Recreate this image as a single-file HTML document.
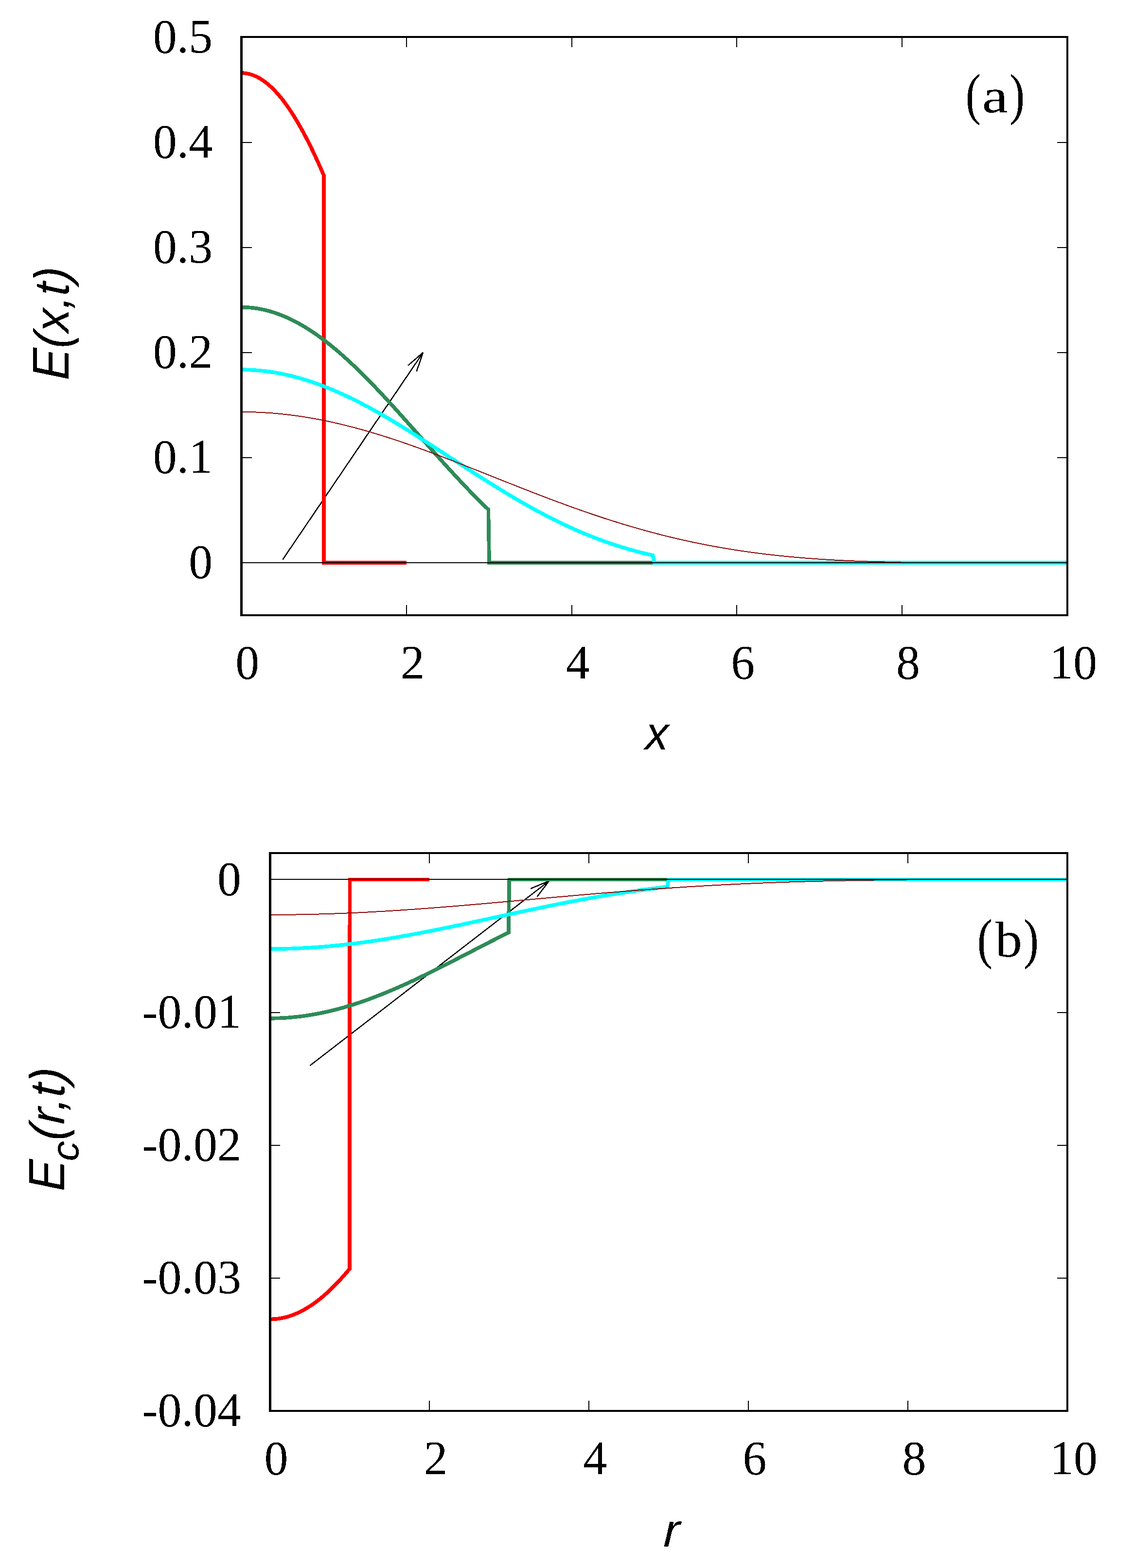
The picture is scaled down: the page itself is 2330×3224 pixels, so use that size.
<!DOCTYPE html>
<html lang="en">
<head>
<meta charset="utf-8">
<title>E(x,t) and Ec(r,t)</title>
<style>
html,body{margin:0;padding:0;background:#fff;}
body{width:2330px;height:3224px;overflow:hidden;}
svg{display:block;}
</style>
</head>
<body>
<svg width="2330" height="3224" viewBox="0 0 2330 3224" shape-rendering="crispEdges">
<defs><filter id="bw" x="-20%" y="-20%" width="140%" height="140%" color-interpolation-filters="sRGB"><feComponentTransfer><feFuncA type="discrete" tableValues="0 1"/></feComponentTransfer></filter></defs>
<rect x="0" y="0" width="2330" height="3224" fill="#fff"/>
<g id="plot-a">
<path d="M581.42,1150.51 L870.17,724.66 M838.93,751.68 L870.17,724.66 M856.63,763.68 L870.17,724.66" fill="none" stroke="#000" stroke-width="2.5" stroke-linecap="butt"/>
<g id="curves-a">
<polyline points="496.50,150.17 497.18,150.17 497.86,150.18 498.54,150.20 499.22,150.22 499.90,150.26 500.58,150.30 501.26,150.34 501.94,150.40 502.61,150.46 503.29,150.53 503.97,150.60 504.65,150.69 505.33,150.78 506.01,150.87 506.69,150.98 507.37,151.09 508.05,151.21 508.73,151.33 509.41,151.46 510.09,151.61 510.77,151.75 511.45,151.91 512.13,152.07 512.81,152.24 513.49,152.41 514.16,152.60 514.84,152.79 515.52,152.98 516.20,153.19 516.88,153.40 517.56,153.62 518.24,153.85 518.92,154.08 519.60,154.32 520.28,154.57 520.96,154.82 521.64,155.08 522.32,155.35 523.00,155.63 523.68,155.91 524.36,156.20 525.03,156.50 525.71,156.80 526.39,157.12 527.07,157.43 527.75,157.76 528.43,158.09 529.11,158.43 529.79,158.78 530.47,159.13 531.15,159.50 531.83,159.86 532.51,160.24 533.19,160.62 533.87,161.01 534.55,161.41 535.23,161.81 535.91,162.22 536.58,162.64 537.26,163.07 537.94,163.50 538.62,163.94 539.30,164.38 539.98,164.84 540.66,165.30 541.34,165.76 542.02,166.24 542.70,166.72 543.38,167.21 544.06,167.70 544.74,168.20 545.42,168.71 546.10,169.23 546.78,169.75 547.46,170.28 548.13,170.82 548.81,171.36 549.49,171.92 550.17,172.47 550.85,173.04 551.53,173.61 552.21,174.19 552.89,174.77 553.57,175.37 554.25,175.97 554.93,176.57 555.61,177.18 556.29,177.80 556.97,178.43 557.65,179.07 558.33,179.71 559.00,180.35 559.68,181.01 560.36,181.67 561.04,182.34 561.72,183.01 562.40,183.69 563.08,184.38 563.76,185.08 564.44,185.78 565.12,186.49 565.80,187.20 566.48,187.93 567.16,188.65 567.84,189.39 568.52,190.13 569.20,190.88 569.88,191.64 570.55,192.40 571.23,193.17 571.91,193.95 572.59,194.73 573.27,195.52 573.95,196.31 574.63,197.12 575.31,197.93 575.99,198.74 576.67,199.57 577.35,200.40 578.03,201.23 578.71,202.07 579.39,202.92 580.07,203.78 580.75,204.64 581.42,205.51 582.10,206.39 582.78,207.27 583.46,208.16 584.14,209.05 584.82,209.95 585.50,210.86 586.18,211.77 586.86,212.70 587.54,213.62 588.22,214.56 588.90,215.50 589.58,216.44 590.26,217.40 590.94,218.36 591.62,219.32 592.30,220.30 592.97,221.28 593.65,222.26 594.33,223.25 595.01,224.25 595.69,225.25 596.37,226.27 597.05,227.28 597.73,228.31 598.41,229.33 599.09,230.37 599.77,231.41 600.45,232.46 601.13,233.52 601.81,234.58 602.49,235.64 603.17,236.72 603.85,237.80 604.52,238.88 605.20,239.97 605.88,241.07 606.56,242.18 607.24,243.29 607.92,244.40 608.60,245.53 609.28,246.65 609.96,247.79 610.64,248.93 611.32,250.08 612.00,251.23 612.68,252.39 613.36,253.55 614.04,254.72 614.72,255.90 615.39,257.08 616.07,258.27 616.75,259.47 617.43,260.67 618.11,261.87 618.79,263.09 619.47,264.31 620.15,265.53 620.83,266.76 621.51,268.00 622.19,269.24 622.87,270.49 623.55,271.74 624.23,273.00 624.91,274.26 625.59,275.53 626.27,276.81 626.94,278.09 627.62,279.38 628.30,280.67 628.98,281.97 629.66,283.28 630.34,284.59 631.02,285.91 631.70,287.23 632.38,288.56 633.06,289.89 633.74,291.23 634.42,292.57 635.10,293.92 635.78,295.28 636.46,296.64 637.14,298.01 637.82,299.38 638.49,300.76 639.17,302.14 639.85,303.53 640.53,304.92 641.21,306.32 641.89,307.73 642.57,309.14 643.25,310.55 643.93,311.97 644.61,313.40 645.29,314.83 645.97,316.27 646.65,317.71 647.33,319.16 648.01,320.61 648.69,322.07 649.37,323.53 650.04,325.00 650.72,326.47 651.40,327.95 652.08,329.43 652.76,330.92 653.44,332.42 654.12,333.92 654.80,335.42 655.48,336.93 656.16,338.44 656.84,339.96 657.52,341.49 658.20,343.02 658.88,344.55 659.56,346.09 660.24,347.64 660.91,349.19 661.59,350.74 662.27,352.30 662.95,353.86 663.63,355.43 664.31,357.01 664.99,358.58 665.67,360.17 666.35,1157.00 836.20,1157.00" fill="none" stroke="#ff0000" stroke-width="7.7" stroke-linejoin="miter" stroke-miterlimit="10" stroke-linecap="butt"/>
<polyline points="496.50,631.71 498.20,631.71 499.90,631.73 501.60,631.77 503.29,631.82 504.99,631.88 506.69,631.96 508.39,632.05 510.09,632.16 511.79,632.28 513.49,632.41 515.18,632.56 516.88,632.73 518.58,632.90 520.28,633.09 521.98,633.30 523.68,633.52 525.37,633.75 527.07,634.00 528.77,634.26 530.47,634.54 532.17,634.83 533.87,635.13 535.57,635.45 537.26,635.78 538.96,636.13 540.66,636.48 542.36,636.86 544.06,637.25 545.76,637.65 547.46,638.06 549.15,638.49 550.85,638.93 552.55,639.39 554.25,639.86 555.95,640.34 557.65,640.84 559.34,641.35 561.04,641.88 562.74,642.41 564.44,642.97 566.14,643.53 567.84,644.11 569.54,644.70 571.23,645.31 572.93,645.93 574.63,646.56 576.33,647.21 578.03,647.87 579.73,648.54 581.42,649.23 583.12,649.93 584.82,650.64 586.52,651.36 588.22,652.10 589.92,652.85 591.62,653.62 593.31,654.39 595.01,655.18 596.71,655.99 598.41,656.80 600.11,657.63 601.81,658.47 603.51,659.33 605.20,660.19 606.90,661.07 608.60,661.97 610.30,662.87 612.00,663.79 613.70,664.72 615.39,665.66 617.09,666.61 618.79,667.58 620.49,668.55 622.19,669.54 623.89,670.55 625.59,671.56 627.28,672.59 628.98,673.63 630.68,674.68 632.38,675.74 634.08,676.81 635.78,677.89 637.48,678.99 639.17,680.10 640.87,681.22 642.57,682.35 644.27,683.49 645.97,684.65 647.67,685.81 649.37,686.99 651.06,688.17 652.76,689.37 654.46,690.58 656.16,691.80 657.86,693.03 659.56,694.27 661.25,695.52 662.95,696.79 664.65,698.06 666.35,699.34 668.05,700.64 669.75,701.94 671.45,703.25 673.14,704.58 674.84,705.91 676.54,707.26 678.24,708.61 679.94,709.98 681.64,711.35 683.34,712.74 685.03,714.13 686.73,715.53 688.43,716.95 690.13,718.37 691.83,719.80 693.53,721.24 695.22,722.69 696.92,724.15 698.62,725.62 700.32,727.10 702.02,728.58 703.72,730.08 705.42,731.58 707.11,733.09 708.81,734.61 710.51,736.14 712.21,737.68 713.91,739.22 715.61,740.78 717.31,742.34 719.00,743.91 720.70,745.49 722.40,747.07 724.10,748.67 725.80,750.27 727.50,751.88 729.19,753.49 730.89,755.12 732.59,756.75 734.29,758.39 735.99,760.03 737.69,761.69 739.39,763.35 741.08,765.01 742.78,766.68 744.48,768.36 746.18,770.05 747.88,771.74 749.58,773.44 751.27,775.15 752.97,776.86 754.67,778.58 756.37,780.31 758.07,782.04 759.77,783.77 761.47,785.51 763.16,787.26 764.86,789.02 766.56,790.78 768.26,792.54 769.96,794.31 771.66,796.08 773.36,797.86 775.05,799.65 776.75,801.44 778.45,803.24 780.15,805.04 781.85,806.84 783.55,808.65 785.25,810.46 786.94,812.28 788.64,814.10 790.34,815.93 792.04,817.76 793.74,819.59 795.44,821.43 797.13,823.28 798.83,825.12 800.53,826.97 802.23,828.82 803.93,830.68 805.63,832.54 807.33,834.40 809.02,836.27 810.72,838.14 812.42,840.01 814.12,841.89 815.82,843.77 817.52,845.65 819.22,847.53 820.91,849.42 822.61,851.30 824.31,853.20 826.01,855.09 827.71,856.98 829.41,858.88 831.10,860.78 832.80,862.68 834.50,864.58 836.20,866.48 837.90,868.39 839.60,870.30 841.30,872.20 842.99,874.11 844.69,876.02 846.39,877.94 848.09,879.85 849.79,881.76 851.49,883.68 853.18,885.59 854.88,887.51 856.58,889.42 858.28,891.34 859.98,893.25 861.68,895.17 863.38,897.09 865.07,899.00 866.77,900.92 868.47,902.84 870.17,904.75 871.87,906.67 873.57,908.58 875.27,910.50 876.96,912.41 878.66,914.33 880.36,916.24 882.06,918.15 883.76,920.06 885.46,921.97 887.15,923.88 888.85,925.79 890.55,927.69 892.25,929.59 893.95,931.50 895.65,933.40 897.35,935.30 899.04,937.19 900.74,939.09 902.44,940.98 904.14,942.87 905.84,944.76 907.54,946.65 909.24,948.53 910.93,950.42 912.63,952.30 914.33,954.17 916.03,956.05 917.73,957.92 919.43,959.79 921.12,961.65 922.82,963.51 924.52,965.37 926.22,967.23 927.92,969.08 929.62,970.93 931.32,972.78 933.01,974.62 934.71,976.46 936.41,978.29 938.11,980.12 939.81,981.95 941.51,983.77 943.21,985.59 944.90,987.41 946.60,989.22 948.30,991.03 950.00,992.83 951.70,994.63 953.40,996.42 955.10,998.21 956.79,999.99 958.49,1001.77 960.19,1003.55 961.89,1005.32 963.59,1007.08 965.29,1008.84 966.98,1010.59 968.68,1012.34 970.38,1014.09 972.08,1015.83 973.78,1017.56 975.48,1019.29 977.18,1021.01 978.87,1022.73 980.57,1024.44 982.27,1026.14 983.97,1027.84 985.67,1029.54 987.37,1031.22 989.06,1032.91 990.76,1034.58 992.46,1036.25 994.16,1037.91 995.86,1039.57 997.56,1041.22 999.26,1042.86 1000.95,1044.50 1002.65,1046.13 1004.35,1047.76 1006.05,1157.00 1345.75,1157.00" fill="none" stroke="#2e8b57" stroke-width="7.7" stroke-linejoin="miter" stroke-miterlimit="10" stroke-linecap="butt"/>
<polyline points="496.50,760.24 499.90,760.25 503.29,760.30 506.69,760.37 510.09,760.47 513.49,760.59 516.88,760.75 520.28,760.93 523.68,761.15 527.07,761.39 530.47,761.66 533.87,761.95 537.26,762.28 540.66,762.63 544.06,763.01 547.46,763.42 550.85,763.86 554.25,764.32 557.65,764.81 561.04,765.33 564.44,765.88 567.84,766.45 571.23,767.05 574.63,767.68 578.03,768.34 581.42,769.02 584.82,769.73 588.22,770.47 591.62,771.23 595.01,772.02 598.41,772.84 601.81,773.68 605.20,774.55 608.60,775.44 612.00,776.36 615.39,777.31 618.79,778.28 622.19,779.27 625.59,780.29 628.98,781.34 632.38,782.41 635.78,783.50 639.17,784.62 642.57,785.77 645.97,786.94 649.37,788.13 652.76,789.34 656.16,790.58 659.56,791.84 662.95,793.13 666.35,794.44 669.75,795.77 673.14,797.12 676.54,798.49 679.94,799.89 683.34,801.31 686.73,802.75 690.13,804.21 693.53,805.69 696.92,807.19 700.32,808.71 703.72,810.25 707.11,811.82 710.51,813.40 713.91,815.00 717.31,816.62 720.70,818.26 724.10,819.92 727.50,821.59 730.89,823.29 734.29,825.00 737.69,826.73 741.08,828.48 744.48,830.24 747.88,832.02 751.27,833.82 754.67,835.63 758.07,837.46 761.47,839.30 764.86,841.16 768.26,843.03 771.66,844.92 775.05,846.82 778.45,848.74 781.85,850.67 785.25,852.61 788.64,854.57 792.04,856.54 795.44,858.52 798.83,860.52 802.23,862.52 805.63,864.54 809.02,866.57 812.42,868.60 815.82,870.65 819.22,872.71 822.61,874.78 826.01,876.86 829.41,878.95 832.80,881.05 836.20,883.15 839.60,885.27 842.99,887.39 846.39,889.52 849.79,891.66 853.18,893.80 856.58,895.95 859.98,898.11 863.38,900.27 866.77,902.44 870.17,904.61 873.57,906.79 876.96,908.98 880.36,911.16 883.76,913.36 887.15,915.55 890.55,917.75 893.95,919.95 897.35,922.16 900.74,924.37 904.14,926.58 907.54,928.79 910.93,931.00 914.33,933.22 917.73,935.43 921.12,937.65 924.52,939.87 927.92,942.08 931.32,944.30 934.71,946.52 938.11,948.73 941.51,950.94 944.90,953.16 948.30,955.37 951.70,957.57 955.10,959.78 958.49,961.98 961.89,964.18 965.29,966.38 968.68,968.57 972.08,970.76 975.48,972.95 978.87,975.13 982.27,977.30 985.67,979.48 989.06,981.64 992.46,983.80 995.86,985.96 999.26,988.10 1002.65,990.25 1006.05,992.38 1009.45,994.51 1012.84,996.63 1016.24,998.75 1019.64,1000.85 1023.03,1002.95 1026.43,1005.04 1029.83,1007.13 1033.23,1009.20 1036.62,1011.27 1040.02,1013.32 1043.42,1015.37 1046.81,1017.41 1050.21,1019.43 1053.61,1021.45 1057.01,1023.46 1060.40,1025.46 1063.80,1027.44 1067.20,1029.42 1070.59,1031.38 1073.99,1033.34 1077.39,1035.28 1080.78,1037.21 1084.18,1039.13 1087.58,1041.04 1090.97,1042.93 1094.37,1044.82 1097.77,1046.69 1101.17,1048.54 1104.56,1050.39 1107.96,1052.22 1111.36,1054.04 1114.75,1055.84 1118.15,1057.64 1121.55,1059.41 1124.95,1061.18 1128.34,1062.93 1131.74,1064.67 1135.14,1066.39 1138.53,1068.10 1141.93,1069.79 1145.33,1071.47 1148.72,1073.13 1152.12,1074.78 1155.52,1076.42 1158.91,1078.04 1162.31,1079.64 1165.71,1081.23 1169.11,1082.81 1172.50,1084.37 1175.90,1085.91 1179.30,1087.44 1182.69,1088.95 1186.09,1090.45 1189.49,1091.93 1192.88,1093.39 1196.28,1094.84 1199.68,1096.27 1203.08,1097.69 1206.47,1099.09 1209.87,1100.47 1213.27,1101.84 1216.66,1103.19 1220.06,1104.53 1223.46,1105.85 1226.86,1107.15 1230.25,1108.44 1233.65,1109.71 1237.05,1110.96 1240.44,1112.20 1243.84,1113.42 1247.24,1114.62 1250.63,1115.81 1254.03,1116.98 1257.43,1118.14 1260.82,1119.27 1264.22,1120.39 1267.62,1121.50 1271.02,1122.59 1274.41,1123.66 1277.81,1124.72 1281.21,1125.75 1284.60,1126.78 1288.00,1127.78 1291.40,1128.77 1294.80,1129.75 1298.19,1130.71 1301.59,1131.65 1304.99,1132.57 1308.38,1133.48 1311.78,1134.37 1315.18,1135.25 1318.57,1136.11 1321.97,1136.96 1325.37,1137.79 1328.76,1138.60 1332.16,1139.40 1335.56,1140.18 1338.96,1140.95 1342.35,1141.70 1345.75,1157.00 2195.00,1157.00" fill="none" stroke="#00ffff" stroke-width="7.7" stroke-linejoin="miter" stroke-miterlimit="10" stroke-linecap="butt"/>
<polyline points="496.50,846.94 499.90,846.95 503.29,846.97 506.69,847.01 510.09,847.06 513.49,847.12 516.88,847.20 520.28,847.30 523.68,847.41 527.07,847.53 530.47,847.67 533.87,847.82 537.26,847.99 540.66,848.17 544.06,848.36 547.46,848.57 550.85,848.79 554.25,849.03 557.65,849.28 561.04,849.55 564.44,849.83 567.84,850.13 571.23,850.43 574.63,850.76 578.03,851.09 581.42,851.45 584.82,851.81 588.22,852.19 591.62,852.58 595.01,852.99 598.41,853.41 601.81,853.84 605.20,854.29 608.60,854.75 612.00,855.23 615.39,855.71 618.79,856.22 622.19,856.73 625.59,857.26 628.98,857.80 632.38,858.35 635.78,858.92 639.17,859.50 642.57,860.10 645.97,860.70 649.37,861.32 652.76,861.96 656.16,862.60 659.56,863.26 662.95,863.93 666.35,864.61 669.75,865.30 673.14,866.01 676.54,866.73 679.94,867.46 683.34,868.21 686.73,868.96 690.13,869.73 693.53,870.51 696.92,871.30 700.32,872.10 703.72,872.91 707.11,873.74 710.51,874.57 713.91,875.42 717.31,876.28 720.70,877.15 724.10,878.03 727.50,878.92 730.89,879.82 734.29,880.73 737.69,881.66 741.08,882.59 744.48,883.53 747.88,884.49 751.27,885.45 754.67,886.42 758.07,887.41 761.47,888.40 764.86,889.40 768.26,890.41 771.66,891.43 775.05,892.46 778.45,893.50 781.85,894.55 785.25,895.61 788.64,896.67 792.04,897.75 795.44,898.83 798.83,899.92 802.23,901.02 805.63,902.13 809.02,903.25 812.42,904.37 815.82,905.50 819.22,906.64 822.61,907.79 826.01,908.94 829.41,910.10 832.80,911.27 836.20,912.44 839.60,913.62 842.99,914.81 846.39,916.01 849.79,917.21 853.18,918.42 856.58,919.63 859.98,920.85 863.38,922.08 866.77,923.31 870.17,924.54 873.57,925.79 876.96,927.04 880.36,928.29 883.76,929.55 887.15,930.81 890.55,932.08 893.95,933.35 897.35,934.63 900.74,935.91 904.14,937.20 907.54,938.49 910.93,939.78 914.33,941.08 917.73,942.38 921.12,943.69 924.52,945.00 927.92,946.31 931.32,947.63 934.71,948.95 938.11,950.27 941.51,951.59 944.90,952.92 948.30,954.25 951.70,955.58 955.10,956.92 958.49,958.25 961.89,959.59 965.29,960.93 968.68,962.28 972.08,963.62 975.48,964.97 978.87,966.31 982.27,967.66 985.67,969.01 989.06,970.36 992.46,971.71 995.86,973.06 999.26,974.42 1002.65,975.77 1006.05,977.12 1009.45,978.48 1012.84,979.83 1016.24,981.18 1019.64,982.54 1023.03,983.89 1026.43,985.24 1029.83,986.59 1033.23,987.94 1036.62,989.29 1040.02,990.64 1043.42,991.99 1046.81,993.34 1050.21,994.69 1053.61,996.03 1057.01,997.37 1060.40,998.72 1063.80,1000.06 1067.20,1001.39 1070.59,1002.73 1073.99,1004.06 1077.39,1005.40 1080.78,1006.73 1084.18,1008.05 1087.58,1009.38 1090.97,1010.70 1094.37,1012.02 1097.77,1013.33 1101.17,1014.65 1104.56,1015.96 1107.96,1017.27 1111.36,1018.57 1114.75,1019.87 1118.15,1021.17 1121.55,1022.46 1124.95,1023.75 1128.34,1025.04 1131.74,1026.32 1135.14,1027.60 1138.53,1028.87 1141.93,1030.14 1145.33,1031.41 1148.72,1032.67 1152.12,1033.93 1155.52,1035.18 1158.91,1036.43 1162.31,1037.67 1165.71,1038.91 1169.11,1040.14 1172.50,1041.37 1175.90,1042.60 1179.30,1043.82 1182.69,1045.03 1186.09,1046.24 1189.49,1047.44 1192.88,1048.64 1196.28,1049.83 1199.68,1051.02 1203.08,1052.20 1206.47,1053.38 1209.87,1054.55 1213.27,1055.71 1216.66,1056.87 1220.06,1058.02 1223.46,1059.17 1226.86,1060.31 1230.25,1061.44 1233.65,1062.57 1237.05,1063.69 1240.44,1064.81 1243.84,1065.92 1247.24,1067.02 1250.63,1068.12 1254.03,1069.20 1257.43,1070.29 1260.82,1071.36 1264.22,1072.43 1267.62,1073.50 1271.02,1074.55 1274.41,1075.60 1277.81,1076.65 1281.21,1077.68 1284.60,1078.71 1288.00,1079.73 1291.40,1080.75 1294.80,1081.75 1298.19,1082.76 1301.59,1083.75 1304.99,1084.74 1308.38,1085.71 1311.78,1086.69 1315.18,1087.65 1318.57,1088.61 1321.97,1089.56 1325.37,1090.50 1328.76,1091.44 1332.16,1092.37 1335.56,1093.29 1338.96,1094.20 1342.35,1095.11 1345.75,1096.00 1349.15,1096.89 1352.54,1097.78 1355.94,1098.65 1359.34,1099.52 1362.74,1100.38 1366.13,1101.24 1369.53,1102.08 1372.93,1102.92 1376.32,1103.75 1379.72,1104.57 1383.12,1105.39 1386.51,1106.20 1389.91,1107.00 1393.31,1107.79 1396.70,1108.58 1400.10,1109.35 1403.50,1110.12 1406.90,1110.89 1410.29,1111.64 1413.69,1112.39 1417.09,1113.13 1420.48,1113.86 1423.88,1114.58 1427.28,1115.30 1430.67,1116.01 1434.07,1116.71 1437.47,1117.41 1440.87,1118.09 1444.26,1118.77 1447.66,1119.45 1451.06,1120.11 1454.45,1120.77 1457.85,1121.42 1461.25,1122.06 1464.64,1122.69 1468.04,1123.32 1471.44,1123.94 1474.84,1124.55 1478.23,1125.16 1481.63,1125.76 1485.03,1126.35 1488.42,1126.93 1491.82,1127.51 1495.22,1128.08 1498.62,1128.64 1502.01,1129.20 1505.41,1129.74 1508.81,1130.29 1512.20,1130.82 1515.60,1131.35 1519.00,1131.87 1522.39,1132.38 1525.79,1132.89 1529.19,1133.38 1532.59,1133.88 1535.98,1134.36 1539.38,1134.84 1542.78,1135.31 1546.17,1135.78 1549.57,1136.24 1552.97,1136.69 1556.36,1137.14 1559.76,1137.58 1563.16,1138.01 1566.55,1138.43 1569.95,1138.85 1573.35,1139.27 1576.75,1139.68 1580.14,1140.08 1583.54,1140.47 1586.94,1140.86 1590.33,1141.24 1593.73,1141.62 1597.13,1141.99 1600.52,1142.35 1603.92,1142.71 1607.32,1143.06 1610.72,1143.41 1614.11,1143.75 1617.51,1144.09 1620.91,1144.42 1624.30,1144.74 1627.70,1145.06 1631.10,1145.37 1634.49,1145.68 1637.89,1145.98 1641.29,1146.27 1644.69,1146.56 1648.08,1146.85 1651.48,1147.13 1654.88,1147.41 1658.27,1147.67 1661.67,1147.94 1665.07,1148.20 1668.46,1148.45 1671.86,1148.70 1675.26,1148.95 1678.66,1149.19 1682.05,1149.42 1685.45,1149.65 1688.85,1149.88 1692.24,1150.10 1695.64,1150.32 1699.04,1150.53 1702.43,1150.74 1705.83,1150.94 1709.23,1151.14 1712.63,1151.33 1716.02,1151.52 1719.42,1151.71 1722.82,1151.89 1726.21,1152.07 1729.61,1152.24 1733.01,1152.41 1736.40,1152.57 1739.80,1152.74 1743.20,1152.89 1746.60,1153.05 1749.99,1153.20 1753.39,1153.34 1756.79,1153.49 1760.18,1153.63 1763.58,1153.76 1766.98,1153.89 1770.38,1154.02 1773.77,1154.15 1777.17,1154.27 1780.57,1154.39 1783.96,1154.51 1787.36,1154.62 1790.76,1154.73 1794.15,1154.83 1797.55,1154.94 1800.95,1155.04 1804.35,1155.13 1807.74,1155.23 1811.14,1155.32 1814.54,1155.41 1817.93,1155.49 1821.33,1155.58 1824.73,1155.66 1828.12,1155.74 1831.52,1155.81 1834.92,1155.89 1838.32,1155.96 1841.71,1156.02 1845.11,1156.09 1848.51,1156.15 1851.90,1156.22 1855.30,1157.00 2195.00,1157.00" fill="none" stroke="#8b0000" stroke-width="2.0" stroke-linejoin="miter" stroke-miterlimit="10" stroke-linecap="butt"/>
</g>
<rect x="499" y="1156" width="1694" height="2" fill="#000"/>
<rect x="835" y="1244" width="2" height="19" fill="#000"/>
<rect x="835" y="78" width="2" height="19" fill="#000"/>
<rect x="1175" y="1244" width="2" height="19" fill="#000"/>
<rect x="1175" y="78" width="2" height="19" fill="#000"/>
<rect x="1514" y="1244" width="2" height="19" fill="#000"/>
<rect x="1514" y="78" width="2" height="19" fill="#000"/>
<rect x="1854" y="1244" width="2" height="19" fill="#000"/>
<rect x="1854" y="78" width="2" height="19" fill="#000"/>
<rect x="499" y="940" width="19" height="2" fill="#000"/>
<rect x="2174" y="940" width="19" height="2" fill="#000"/>
<rect x="499" y="724" width="19" height="2" fill="#000"/>
<rect x="2174" y="724" width="19" height="2" fill="#000"/>
<rect x="499" y="508" width="19" height="2" fill="#000"/>
<rect x="2174" y="508" width="19" height="2" fill="#000"/>
<rect x="499" y="292" width="19" height="2" fill="#000"/>
<rect x="2174" y="292" width="19" height="2" fill="#000"/>
<rect x="494" y="74" width="5" height="1193" fill="#000"/>
<rect x="2193" y="74" width="4" height="1193" fill="#000"/>
<rect x="494" y="74" width="1703" height="4" fill="#000"/>
<rect x="494" y="1263" width="1703" height="4" fill="#000"/>
<g id="ticklabels-a">
<text filter="url(#bw)" transform="translate(437.30,107.90) scale(1,1.018)" text-anchor="end" font-family="'Liberation Serif', serif" font-size="98">0.5</text>
<text filter="url(#bw)" transform="translate(437.30,323.90) scale(1,1.018)" text-anchor="end" font-family="'Liberation Serif', serif" font-size="98">0.4</text>
<text filter="url(#bw)" transform="translate(437.30,539.90) scale(1,1.018)" text-anchor="end" font-family="'Liberation Serif', serif" font-size="98">0.3</text>
<text filter="url(#bw)" transform="translate(437.30,755.90) scale(1,1.018)" text-anchor="end" font-family="'Liberation Serif', serif" font-size="98">0.2</text>
<text filter="url(#bw)" transform="translate(437.30,971.90) scale(1,1.018)" text-anchor="end" font-family="'Liberation Serif', serif" font-size="98">0.1</text>
<text filter="url(#bw)" transform="translate(437.30,1187.90) scale(1,1.018)" text-anchor="end" font-family="'Liberation Serif', serif" font-size="98">0</text>
<text filter="url(#bw)" transform="translate(508.83,1394.90) scale(1,1.018)" text-anchor="middle" font-family="'Liberation Serif', serif" font-size="98">0</text>
<text filter="url(#bw)" transform="translate(848.50,1394.90) scale(1,1.018)" text-anchor="middle" font-family="'Liberation Serif', serif" font-size="98">2</text>
<text filter="url(#bw)" transform="translate(1188.17,1394.90) scale(1,1.018)" text-anchor="middle" font-family="'Liberation Serif', serif" font-size="98">4</text>
<text filter="url(#bw)" transform="translate(1527.83,1394.90) scale(1,1.018)" text-anchor="middle" font-family="'Liberation Serif', serif" font-size="98">6</text>
<text filter="url(#bw)" transform="translate(1867.50,1394.90) scale(1,1.018)" text-anchor="middle" font-family="'Liberation Serif', serif" font-size="98">8</text>
<text filter="url(#bw)" transform="translate(2207.17,1394.90) scale(1,1.018)" text-anchor="middle" font-family="'Liberation Serif', serif" font-size="98">10</text>
</g>
<text filter="url(#bw)" transform="translate(1326.58,1541.00) scale(0.9453,0.9706) skewX(-1.8)" font-family="'Liberation Sans', sans-serif" font-size="100" font-style="italic">x</text>
<g id="ylabel-a"><text filter="url(#bw)" transform="translate(141.00,781.92) rotate(-90) scale(0.9738,1.0473) skewX(-1.8)" font-family="'Liberation Sans', sans-serif" font-size="100" font-style="italic">E</text><text filter="url(#bw)" transform="translate(141.33,716.66) rotate(-90) scale(0.9729,0.9962) skewX(-1.8)" font-family="'Liberation Sans', sans-serif" font-size="100" font-style="italic">(x,t)</text></g>
<g id="tag-a"><text filter="url(#bw)" transform="translate(1985.68,232.64) scale(0.9373,1.1558)" font-family="'Liberation Serif', serif" font-size="100">(</text><text filter="url(#bw)" transform="translate(2019.70,231.10) scale(1.2000,1.0021)" font-family="'Liberation Serif', serif" font-size="100">a</text><text filter="url(#bw)" transform="translate(2075.81,232.64) scale(0.9515,1.1558)" font-family="'Liberation Serif', serif" font-size="100">)</text></g>
</g>
<g id="plot-b">
<path d="M637.48,2190.95 L1129.32,1811.23 M1091.22,1827.15 L1129.32,1811.23 M1104.28,1844.07 L1129.32,1811.23" fill="none" stroke="#000" stroke-width="2.5" stroke-linecap="butt"/>
<g id="curves-b">
<polyline points="555.50,2712.45 556.16,2712.45 556.81,2712.44 557.47,2712.44 558.12,2712.42 558.78,2712.41 559.43,2712.39 560.09,2712.37 560.75,2712.34 561.40,2712.31 562.06,2712.28 562.71,2712.24 563.37,2712.20 564.03,2712.16 564.68,2712.11 565.34,2712.06 565.99,2712.01 566.65,2711.95 567.30,2711.89 567.96,2711.82 568.62,2711.76 569.27,2711.69 569.93,2711.61 570.58,2711.53 571.24,2711.45 571.89,2711.37 572.55,2711.28 573.21,2711.19 573.86,2711.09 574.52,2710.99 575.17,2710.89 575.83,2710.78 576.49,2710.67 577.14,2710.56 577.80,2710.45 578.45,2710.33 579.11,2710.20 579.76,2710.08 580.42,2709.95 581.08,2709.81 581.73,2709.68 582.39,2709.54 583.04,2709.39 583.70,2709.24 584.36,2709.09 585.01,2708.94 585.67,2708.78 586.32,2708.62 586.98,2708.46 587.63,2708.29 588.29,2708.12 588.95,2707.94 589.60,2707.76 590.26,2707.58 590.91,2707.40 591.57,2707.21 592.22,2707.02 592.88,2706.82 593.54,2706.62 594.19,2706.42 594.85,2706.21 595.50,2706.00 596.16,2705.79 596.82,2705.58 597.47,2705.36 598.13,2705.13 598.78,2704.91 599.44,2704.68 600.09,2704.44 600.75,2704.21 601.41,2703.97 602.06,2703.72 602.72,2703.48 603.37,2703.23 604.03,2702.97 604.68,2702.72 605.34,2702.46 606.00,2702.19 606.65,2701.93 607.31,2701.66 607.96,2701.38 608.62,2701.10 609.28,2700.82 609.93,2700.54 610.59,2700.25 611.24,2699.96 611.90,2699.67 612.55,2699.37 613.21,2699.07 613.87,2698.76 614.52,2698.46 615.18,2698.15 615.83,2697.83 616.49,2697.51 617.15,2697.19 617.80,2696.87 618.46,2696.54 619.11,2696.21 619.77,2695.87 620.42,2695.54 621.08,2695.20 621.74,2694.85 622.39,2694.50 623.05,2694.15 623.70,2693.80 624.36,2693.44 625.01,2693.08 625.67,2692.71 626.33,2692.35 626.98,2691.97 627.64,2691.60 628.29,2691.22 628.95,2690.84 629.61,2690.46 630.26,2690.07 630.92,2689.68 631.57,2689.28 632.23,2688.89 632.88,2688.48 633.54,2688.08 634.20,2687.67 634.85,2687.26 635.51,2686.85 636.16,2686.43 636.82,2686.01 637.48,2685.59 638.13,2685.16 638.79,2684.73 639.44,2684.30 640.10,2683.86 640.75,2683.42 641.41,2682.98 642.07,2682.53 642.72,2682.08 643.38,2681.63 644.03,2681.17 644.69,2680.71 645.34,2680.25 646.00,2679.78 646.66,2679.31 647.31,2678.84 647.97,2678.36 648.62,2677.89 649.28,2677.40 649.94,2676.92 650.59,2676.43 651.25,2675.94 651.90,2675.44 652.56,2674.95 653.21,2674.44 653.87,2673.94 654.53,2673.43 655.18,2672.92 655.84,2672.41 656.49,2671.89 657.15,2671.37 657.80,2670.85 658.46,2670.32 659.12,2669.79 659.77,2669.26 660.43,2668.72 661.08,2668.18 661.74,2667.64 662.40,2667.10 663.05,2666.55 663.71,2666.00 664.36,2665.44 665.02,2664.88 665.67,2664.32 666.33,2663.76 666.99,2663.19 667.64,2662.62 668.30,2662.05 668.95,2661.47 669.61,2660.89 670.26,2660.31 670.92,2659.72 671.58,2659.14 672.23,2658.54 672.89,2657.95 673.54,2657.35 674.20,2656.75 674.86,2656.15 675.51,2655.54 676.17,2654.93 676.82,2654.32 677.48,2653.70 678.13,2653.08 678.79,2652.46 679.45,2651.84 680.10,2651.21 680.76,2650.58 681.41,2649.94 682.07,2649.31 682.73,2648.67 683.38,2648.02 684.04,2647.38 684.69,2646.73 685.35,2646.08 686.00,2645.42 686.66,2644.76 687.32,2644.10 687.97,2643.44 688.63,2642.77 689.28,2642.10 689.94,2641.43 690.59,2640.76 691.25,2640.08 691.91,2639.40 692.56,2638.71 693.22,2638.03 693.87,2637.34 694.53,2636.64 695.19,2635.95 695.84,2635.25 696.50,2634.55 697.15,2633.84 697.81,2633.14 698.46,2632.43 699.12,2631.71 699.78,2631.00 700.43,2630.28 701.09,2629.56 701.74,2628.83 702.40,2628.11 703.06,2627.38 703.71,2626.64 704.37,2625.91 705.02,2625.17 705.68,2624.43 706.33,2623.69 706.99,2622.94 707.65,2622.19 708.30,2621.44 708.96,2620.68 709.61,2619.92 710.27,2619.16 710.92,2618.40 711.58,2617.64 712.24,2616.87 712.89,2616.10 713.55,2615.32 714.20,2614.54 714.86,2613.76 715.52,2612.98 716.17,2612.20 716.83,2611.41 717.48,2610.62 718.14,2609.83 718.79,2609.03 719.45,1808.50 883.40,1808.50" fill="none" stroke="#ff0000" stroke-width="7.7" stroke-linejoin="miter" stroke-miterlimit="10" stroke-linecap="butt"/>
<polyline points="555.50,2093.75 557.14,2093.75 558.78,2093.74 560.42,2093.73 562.06,2093.71 563.70,2093.69 565.34,2093.66 566.98,2093.62 568.62,2093.58 570.26,2093.54 571.89,2093.48 573.53,2093.43 575.17,2093.37 576.81,2093.30 578.45,2093.23 580.09,2093.15 581.73,2093.06 583.37,2092.97 585.01,2092.88 586.65,2092.78 588.29,2092.68 589.93,2092.57 591.57,2092.45 593.21,2092.33 594.85,2092.20 596.49,2092.07 598.13,2091.93 599.77,2091.79 601.41,2091.64 603.05,2091.49 604.68,2091.33 606.32,2091.17 607.96,2091.00 609.60,2090.83 611.24,2090.65 612.88,2090.46 614.52,2090.27 616.16,2090.08 617.80,2089.88 619.44,2089.67 621.08,2089.46 622.72,2089.24 624.36,2089.02 626.00,2088.79 627.64,2088.56 629.28,2088.33 630.92,2088.08 632.56,2087.84 634.20,2087.58 635.84,2087.33 637.48,2087.06 639.11,2086.80 640.75,2086.52 642.39,2086.25 644.03,2085.96 645.67,2085.67 647.31,2085.38 648.95,2085.08 650.59,2084.78 652.23,2084.47 653.87,2084.16 655.51,2083.84 657.15,2083.52 658.79,2083.19 660.43,2082.85 662.07,2082.52 663.71,2082.17 665.35,2081.83 666.99,2081.47 668.63,2081.12 670.26,2080.75 671.90,2080.39 673.54,2080.01 675.18,2079.64 676.82,2079.25 678.46,2078.87 680.10,2078.48 681.74,2078.08 683.38,2077.68 685.02,2077.27 686.66,2076.86 688.30,2076.45 689.94,2076.03 691.58,2075.60 693.22,2075.18 694.86,2074.74 696.50,2074.30 698.14,2073.86 699.78,2073.41 701.42,2072.96 703.06,2072.51 704.69,2072.04 706.33,2071.58 707.97,2071.11 709.61,2070.64 711.25,2070.16 712.89,2069.67 714.53,2069.19 716.17,2068.69 717.81,2068.20 719.45,2067.70 721.09,2067.19 722.73,2066.68 724.37,2066.17 726.01,2065.65 727.65,2065.13 729.29,2064.61 730.93,2064.08 732.57,2063.54 734.21,2063.00 735.85,2062.46 737.48,2061.91 739.12,2061.36 740.76,2060.81 742.40,2060.25 744.04,2059.69 745.68,2059.12 747.32,2058.55 748.96,2057.98 750.60,2057.40 752.24,2056.81 753.88,2056.23 755.52,2055.64 757.16,2055.04 758.80,2054.45 760.44,2053.85 762.08,2053.24 763.72,2052.63 765.36,2052.02 767.00,2051.40 768.63,2050.78 770.27,2050.16 771.91,2049.53 773.55,2048.90 775.19,2048.27 776.83,2047.63 778.47,2046.99 780.11,2046.35 781.75,2045.70 783.39,2045.05 785.03,2044.39 786.67,2043.74 788.31,2043.08 789.95,2042.41 791.59,2041.74 793.23,2041.07 794.87,2040.40 796.51,2039.72 798.15,2039.04 799.79,2038.36 801.42,2037.67 803.06,2036.98 804.70,2036.29 806.34,2035.59 807.98,2034.89 809.62,2034.19 811.26,2033.49 812.90,2032.78 814.54,2032.07 816.18,2031.36 817.82,2030.64 819.46,2029.92 821.10,2029.20 822.74,2028.48 824.38,2027.75 826.02,2027.02 827.66,2026.29 829.30,2025.55 830.94,2024.82 832.58,2024.08 834.21,2023.33 835.85,2022.59 837.49,2021.84 839.13,2021.09 840.77,2020.34 842.41,2019.58 844.05,2018.83 845.69,2018.07 847.33,2017.31 848.97,2016.54 850.61,2015.78 852.25,2015.01 853.89,2014.24 855.53,2013.46 857.17,2012.69 858.81,2011.91 860.45,2011.13 862.09,2010.35 863.73,2009.57 865.37,2008.79 867.00,2008.00 868.64,2007.21 870.28,2006.42 871.92,2005.63 873.56,2004.83 875.20,2004.04 876.84,2003.24 878.48,2002.44 880.12,2001.64 881.76,2000.84 883.40,2000.03 885.04,1999.23 886.68,1998.42 888.32,1997.61 889.96,1996.80 891.60,1995.99 893.24,1995.18 894.88,1994.36 896.52,1993.55 898.16,1992.73 899.80,1991.91 901.43,1991.09 903.07,1990.27 904.71,1989.45 906.35,1988.62 907.99,1987.80 909.63,1986.97 911.27,1986.15 912.91,1985.32 914.55,1984.49 916.19,1983.66 917.83,1982.83 919.47,1982.00 921.11,1981.16 922.75,1980.33 924.39,1979.50 926.03,1978.66 927.67,1977.82 929.31,1976.99 930.95,1976.15 932.59,1975.31 934.22,1974.47 935.86,1973.63 937.50,1972.79 939.14,1971.95 940.78,1971.11 942.42,1970.27 944.06,1969.43 945.70,1968.59 947.34,1967.74 948.98,1966.90 950.62,1966.06 952.26,1965.21 953.90,1964.37 955.54,1963.52 957.18,1962.68 958.82,1961.83 960.46,1960.99 962.10,1960.14 963.74,1959.30 965.38,1958.45 967.01,1957.61 968.65,1956.76 970.29,1955.92 971.93,1955.07 973.57,1954.23 975.21,1953.38 976.85,1952.54 978.49,1951.69 980.13,1950.85 981.77,1950.00 983.41,1949.16 985.05,1948.31 986.69,1947.47 988.33,1946.63 989.97,1945.78 991.61,1944.94 993.25,1944.10 994.89,1943.26 996.53,1942.42 998.16,1941.57 999.80,1940.73 1001.44,1939.90 1003.08,1939.06 1004.72,1938.22 1006.36,1937.38 1008.00,1936.54 1009.64,1935.71 1011.28,1934.87 1012.92,1934.04 1014.56,1933.20 1016.20,1932.37 1017.84,1931.54 1019.48,1930.71 1021.12,1929.88 1022.76,1929.05 1024.40,1928.22 1026.04,1927.39 1027.68,1926.56 1029.32,1925.74 1030.95,1924.91 1032.59,1924.09 1034.23,1923.27 1035.87,1922.45 1037.51,1921.63 1039.15,1920.81 1040.79,1919.99 1042.43,1919.17 1044.07,1918.36 1045.71,1917.54 1047.35,1808.50 1375.25,1808.50" fill="none" stroke="#2e8b57" stroke-width="7.7" stroke-linejoin="miter" stroke-miterlimit="10" stroke-linecap="butt"/>
<polyline points="555.50,1951.08 558.78,1951.08 562.06,1951.07 565.34,1951.05 568.62,1951.02 571.89,1950.98 575.17,1950.94 578.45,1950.88 581.73,1950.82 585.01,1950.75 588.29,1950.67 591.57,1950.59 594.85,1950.49 598.13,1950.39 601.41,1950.28 604.68,1950.16 607.96,1950.04 611.24,1949.90 614.52,1949.76 617.80,1949.61 621.08,1949.45 624.36,1949.28 627.64,1949.11 630.92,1948.93 634.20,1948.74 637.48,1948.54 640.75,1948.33 644.03,1948.12 647.31,1947.90 650.59,1947.67 653.87,1947.43 657.15,1947.19 660.43,1946.93 663.71,1946.67 666.99,1946.41 670.26,1946.13 673.54,1945.85 676.82,1945.56 680.10,1945.26 683.38,1944.95 686.66,1944.64 689.94,1944.32 693.22,1944.00 696.50,1943.66 699.78,1943.32 703.06,1942.97 706.33,1942.62 709.61,1942.25 712.89,1941.88 716.17,1941.51 719.45,1941.12 722.73,1940.73 726.01,1940.34 729.29,1939.93 732.57,1939.52 735.85,1939.11 739.12,1938.68 742.40,1938.25 745.68,1937.82 748.96,1937.38 752.24,1936.93 755.52,1936.47 758.80,1936.01 762.08,1935.54 765.36,1935.07 768.63,1934.59 771.91,1934.11 775.19,1933.61 778.47,1933.12 781.75,1932.61 785.03,1932.11 788.31,1931.59 791.59,1931.07 794.87,1930.55 798.15,1930.02 801.42,1929.48 804.70,1928.94 807.98,1928.40 811.26,1927.85 814.54,1927.29 817.82,1926.73 821.10,1926.16 824.38,1925.59 827.66,1925.02 830.94,1924.44 834.21,1923.85 837.49,1923.26 840.77,1922.67 844.05,1922.07 847.33,1921.47 850.61,1920.87 853.89,1920.26 857.17,1919.64 860.45,1919.02 863.73,1918.40 867.00,1917.78 870.28,1917.15 873.56,1916.51 876.84,1915.88 880.12,1915.24 883.40,1914.59 886.68,1913.95 889.96,1913.30 893.24,1912.64 896.52,1911.99 899.80,1911.33 903.07,1910.67 906.35,1910.00 909.63,1909.34 912.91,1908.67 916.19,1907.99 919.47,1907.32 922.75,1906.64 926.03,1905.96 929.31,1905.28 932.59,1904.60 935.86,1903.91 939.14,1903.22 942.42,1902.53 945.70,1901.84 948.98,1901.15 952.26,1900.45 955.54,1899.76 958.82,1899.06 962.10,1898.36 965.38,1897.66 968.65,1896.96 971.93,1896.26 975.21,1895.55 978.49,1894.85 981.77,1894.14 985.05,1893.44 988.33,1892.73 991.61,1892.02 994.89,1891.31 998.16,1890.61 1001.44,1889.90 1004.72,1889.19 1008.00,1888.48 1011.28,1887.77 1014.56,1887.06 1017.84,1886.35 1021.12,1885.64 1024.40,1884.93 1027.68,1884.22 1030.95,1883.51 1034.23,1882.80 1037.51,1882.10 1040.79,1881.39 1044.07,1880.68 1047.35,1879.98 1050.63,1879.27 1053.91,1878.57 1057.19,1877.86 1060.47,1877.16 1063.74,1876.46 1067.02,1875.76 1070.30,1875.06 1073.58,1874.36 1076.86,1873.67 1080.14,1872.97 1083.42,1872.28 1086.70,1871.59 1089.98,1870.90 1093.26,1870.21 1096.53,1869.52 1099.81,1868.84 1103.09,1868.16 1106.37,1867.48 1109.65,1866.80 1112.93,1866.12 1116.21,1865.45 1119.49,1864.78 1122.77,1864.11 1126.05,1863.44 1129.32,1862.77 1132.60,1862.11 1135.88,1861.45 1139.16,1860.79 1142.44,1860.14 1145.72,1859.49 1149.00,1858.84 1152.28,1858.19 1155.56,1857.55 1158.84,1856.91 1162.12,1856.27 1165.39,1855.64 1168.67,1855.01 1171.95,1854.38 1175.23,1853.75 1178.51,1853.13 1181.79,1852.51 1185.07,1851.90 1188.35,1851.29 1191.63,1850.68 1194.90,1850.07 1198.18,1849.47 1201.46,1848.88 1204.74,1848.28 1208.02,1847.69 1211.30,1847.10 1214.58,1846.52 1217.86,1845.94 1221.14,1845.37 1224.42,1844.80 1227.69,1844.23 1230.97,1843.67 1234.25,1843.11 1237.53,1842.55 1240.81,1842.00 1244.09,1841.45 1247.37,1840.91 1250.65,1840.37 1253.93,1839.83 1257.21,1839.30 1260.48,1838.78 1263.76,1838.25 1267.04,1837.74 1270.32,1837.22 1273.60,1836.71 1276.88,1836.21 1280.16,1835.71 1283.44,1835.21 1286.72,1834.72 1290.00,1834.23 1293.28,1833.75 1296.55,1833.27 1299.83,1832.79 1303.11,1832.32 1306.39,1831.86 1309.67,1831.40 1312.95,1830.94 1316.23,1830.49 1319.51,1830.04 1322.79,1829.60 1326.07,1829.16 1329.34,1828.73 1332.62,1828.30 1335.90,1827.88 1339.18,1827.46 1342.46,1827.04 1345.74,1826.63 1349.02,1826.23 1352.30,1825.82 1355.58,1825.43 1358.86,1825.04 1362.13,1824.65 1365.41,1824.27 1368.69,1823.89 1371.97,1823.52 1375.25,1808.50 2195.00,1808.50" fill="none" stroke="#00ffff" stroke-width="7.7" stroke-linejoin="miter" stroke-miterlimit="10" stroke-linecap="butt"/>
<polyline points="555.50,1880.90 558.78,1880.90 562.06,1880.90 565.34,1880.89 568.62,1880.88 571.89,1880.87 575.17,1880.85 578.45,1880.83 581.73,1880.81 585.01,1880.78 588.29,1880.75 591.57,1880.72 594.85,1880.69 598.13,1880.65 601.41,1880.61 604.68,1880.57 607.96,1880.52 611.24,1880.47 614.52,1880.42 617.80,1880.37 621.08,1880.31 624.36,1880.25 627.64,1880.18 630.92,1880.12 634.20,1880.05 637.48,1879.98 640.75,1879.90 644.03,1879.82 647.31,1879.74 650.59,1879.66 653.87,1879.57 657.15,1879.48 660.43,1879.39 663.71,1879.29 666.99,1879.19 670.26,1879.09 673.54,1878.99 676.82,1878.88 680.10,1878.77 683.38,1878.66 686.66,1878.55 689.94,1878.43 693.22,1878.31 696.50,1878.19 699.78,1878.06 703.06,1877.93 706.33,1877.80 709.61,1877.67 712.89,1877.53 716.17,1877.39 719.45,1877.25 722.73,1877.11 726.01,1876.96 729.29,1876.81 732.57,1876.66 735.85,1876.51 739.12,1876.35 742.40,1876.19 745.68,1876.03 748.96,1875.87 752.24,1875.70 755.52,1875.53 758.80,1875.36 762.08,1875.18 765.36,1875.01 768.63,1874.83 771.91,1874.65 775.19,1874.46 778.47,1874.28 781.75,1874.09 785.03,1873.90 788.31,1873.71 791.59,1873.51 794.87,1873.32 798.15,1873.12 801.42,1872.92 804.70,1872.71 807.98,1872.51 811.26,1872.30 814.54,1872.09 817.82,1871.88 821.10,1871.67 824.38,1871.45 827.66,1871.23 830.94,1871.01 834.21,1870.79 837.49,1870.57 840.77,1870.34 844.05,1870.11 847.33,1869.89 850.61,1869.65 853.89,1869.42 857.17,1869.19 860.45,1868.95 863.73,1868.71 867.00,1868.47 870.28,1868.23 873.56,1867.99 876.84,1867.74 880.12,1867.50 883.40,1867.25 886.68,1867.00 889.96,1866.75 893.24,1866.49 896.52,1866.24 899.80,1865.98 903.07,1865.73 906.35,1865.47 909.63,1865.21 912.91,1864.95 916.19,1864.68 919.47,1864.42 922.75,1864.15 926.03,1863.89 929.31,1863.62 932.59,1863.35 935.86,1863.08 939.14,1862.81 942.42,1862.54 945.70,1862.26 948.98,1861.99 952.26,1861.71 955.54,1861.44 958.82,1861.16 962.10,1860.88 965.38,1860.60 968.65,1860.32 971.93,1860.04 975.21,1859.75 978.49,1859.47 981.77,1859.19 985.05,1858.90 988.33,1858.61 991.61,1858.33 994.89,1858.04 998.16,1857.75 1001.44,1857.46 1004.72,1857.17 1008.00,1856.88 1011.28,1856.59 1014.56,1856.30 1017.84,1856.01 1021.12,1855.72 1024.40,1855.42 1027.68,1855.13 1030.95,1854.84 1034.23,1854.54 1037.51,1854.25 1040.79,1853.95 1044.07,1853.66 1047.35,1853.36 1050.63,1853.07 1053.91,1852.77 1057.19,1852.48 1060.47,1852.18 1063.74,1851.88 1067.02,1851.59 1070.30,1851.29 1073.58,1850.99 1076.86,1850.69 1080.14,1850.40 1083.42,1850.10 1086.70,1849.80 1089.98,1849.50 1093.26,1849.21 1096.53,1848.91 1099.81,1848.61 1103.09,1848.31 1106.37,1848.02 1109.65,1847.72 1112.93,1847.42 1116.21,1847.13 1119.49,1846.83 1122.77,1846.54 1126.05,1846.24 1129.32,1845.94 1132.60,1845.65 1135.88,1845.35 1139.16,1845.06 1142.44,1844.77 1145.72,1844.47 1149.00,1844.18 1152.28,1843.89 1155.56,1843.59 1158.84,1843.30 1162.12,1843.01 1165.39,1842.72 1168.67,1842.43 1171.95,1842.14 1175.23,1841.85 1178.51,1841.56 1181.79,1841.27 1185.07,1840.98 1188.35,1840.70 1191.63,1840.41 1194.90,1840.13 1198.18,1839.84 1201.46,1839.56 1204.74,1839.28 1208.02,1838.99 1211.30,1838.71 1214.58,1838.43 1217.86,1838.15 1221.14,1837.87 1224.42,1837.59 1227.69,1837.32 1230.97,1837.04 1234.25,1836.76 1237.53,1836.49 1240.81,1836.22 1244.09,1835.94 1247.37,1835.67 1250.65,1835.40 1253.93,1835.13 1257.21,1834.86 1260.48,1834.60 1263.76,1834.33 1267.04,1834.06 1270.32,1833.80 1273.60,1833.54 1276.88,1833.27 1280.16,1833.01 1283.44,1832.75 1286.72,1832.50 1290.00,1832.24 1293.28,1831.98 1296.55,1831.73 1299.83,1831.47 1303.11,1831.22 1306.39,1830.97 1309.67,1830.72 1312.95,1830.47 1316.23,1830.22 1319.51,1829.98 1322.79,1829.73 1326.07,1829.49 1329.34,1829.24 1332.62,1829.00 1335.90,1828.76 1339.18,1828.53 1342.46,1828.29 1345.74,1828.05 1349.02,1827.82 1352.30,1827.59 1355.58,1827.35 1358.86,1827.12 1362.13,1826.90 1365.41,1826.67 1368.69,1826.44 1371.97,1826.22 1375.25,1825.99 1378.53,1825.77 1381.81,1825.55 1385.09,1825.33 1388.37,1825.12 1391.64,1824.90 1394.92,1824.69 1398.20,1824.47 1401.48,1824.26 1404.76,1824.05 1408.04,1823.85 1411.32,1823.64 1414.60,1823.43 1417.88,1823.23 1421.16,1823.03 1424.43,1822.83 1427.71,1822.63 1430.99,1822.43 1434.27,1822.23 1437.55,1822.04 1440.83,1821.85 1444.11,1821.65 1447.39,1821.46 1450.67,1821.28 1453.95,1821.09 1457.22,1820.90 1460.50,1820.72 1463.78,1820.54 1467.06,1820.36 1470.34,1820.18 1473.62,1820.00 1476.90,1819.82 1480.18,1819.65 1483.46,1819.48 1486.74,1819.31 1490.01,1819.14 1493.29,1818.97 1496.57,1818.80 1499.85,1818.63 1503.13,1818.47 1506.41,1818.31 1509.69,1818.15 1512.97,1817.99 1516.25,1817.83 1519.53,1817.68 1522.80,1817.52 1526.08,1817.37 1529.36,1817.22 1532.64,1817.07 1535.92,1816.92 1539.20,1816.77 1542.48,1816.63 1545.76,1816.48 1549.04,1816.34 1552.32,1816.20 1555.60,1816.06 1558.87,1815.93 1562.15,1815.79 1565.43,1815.65 1568.71,1815.52 1571.99,1815.39 1575.27,1815.26 1578.55,1815.13 1581.83,1815.00 1585.11,1814.88 1588.38,1814.75 1591.66,1814.63 1594.94,1814.51 1598.22,1814.39 1601.50,1814.27 1604.78,1814.15 1608.06,1814.04 1611.34,1813.92 1614.62,1813.81 1617.90,1813.70 1621.17,1813.59 1624.45,1813.48 1627.73,1813.37 1631.01,1813.27 1634.29,1813.16 1637.57,1813.06 1640.85,1812.96 1644.13,1812.86 1647.41,1812.76 1650.69,1812.66 1653.96,1812.57 1657.24,1812.47 1660.52,1812.38 1663.80,1812.29 1667.08,1812.19 1670.36,1812.10 1673.64,1812.02 1676.92,1811.93 1680.20,1811.84 1683.48,1811.76 1686.75,1811.67 1690.03,1811.59 1693.31,1811.51 1696.59,1811.43 1699.87,1811.35 1703.15,1811.28 1706.43,1811.20 1709.71,1811.12 1712.99,1811.05 1716.27,1810.98 1719.55,1810.91 1722.82,1810.84 1726.10,1810.77 1729.38,1810.70 1732.66,1810.63 1735.94,1810.57 1739.22,1810.50 1742.50,1810.44 1745.78,1810.37 1749.06,1810.31 1752.33,1810.25 1755.61,1810.19 1758.89,1810.13 1762.17,1810.08 1765.45,1810.02 1768.73,1809.97 1772.01,1809.91 1775.29,1809.86 1778.57,1809.81 1781.85,1809.75 1785.12,1809.70 1788.40,1809.66 1791.68,1809.61 1794.96,1809.56 1798.24,1809.51 1801.52,1809.47 1804.80,1809.42 1808.08,1809.38 1811.36,1809.34 1814.64,1809.29 1817.91,1809.25 1821.19,1809.21 1824.47,1809.17 1827.75,1809.13 1831.03,1809.09 1834.31,1809.06 1837.59,1809.02 1840.87,1808.99 1844.15,1808.95 1847.43,1808.92 1850.70,1808.88 1853.98,1808.85 1857.26,1808.82 1860.54,1808.79 1863.82,1808.76 1867.10,1808.00 2195.00,1808.00" fill="none" stroke="#8b0000" stroke-width="2.0" stroke-linejoin="miter" stroke-miterlimit="10" stroke-linecap="butt"/>
</g>
<rect x="558" y="1807" width="1635" height="2" fill="#000"/>
<rect x="882" y="2880" width="2" height="19" fill="#000"/>
<rect x="882" y="1756" width="2" height="19" fill="#000"/>
<rect x="1210" y="2880" width="2" height="19" fill="#000"/>
<rect x="1210" y="1756" width="2" height="19" fill="#000"/>
<rect x="1538" y="2880" width="2" height="19" fill="#000"/>
<rect x="1538" y="1756" width="2" height="19" fill="#000"/>
<rect x="1866" y="2880" width="2" height="19" fill="#000"/>
<rect x="1866" y="1756" width="2" height="19" fill="#000"/>
<rect x="558" y="2081" width="18" height="2" fill="#000"/>
<rect x="2174" y="2081" width="19" height="2" fill="#000"/>
<rect x="558" y="2354" width="18" height="2" fill="#000"/>
<rect x="2174" y="2354" width="19" height="2" fill="#000"/>
<rect x="558" y="2627" width="18" height="2" fill="#000"/>
<rect x="2174" y="2627" width="19" height="2" fill="#000"/>
<rect x="553" y="1752" width="5" height="1151" fill="#000"/>
<rect x="2193" y="1752" width="4" height="1151" fill="#000"/>
<rect x="553" y="1752" width="1644" height="4" fill="#000"/>
<rect x="553" y="2899" width="1644" height="4" fill="#000"/>
<g id="ticklabels-b">
<text filter="url(#bw)" transform="translate(496.00,1839.90) scale(1,1.018)" text-anchor="end" font-family="'Liberation Serif', serif" font-size="98">0</text>
<text filter="url(#bw)" transform="translate(496.00,2112.90) scale(1,1.018)" text-anchor="end" font-family="'Liberation Serif', serif" font-size="98">-0.01</text>
<text filter="url(#bw)" transform="translate(496.00,2385.90) scale(1,1.018)" text-anchor="end" font-family="'Liberation Serif', serif" font-size="98">-0.02</text>
<text filter="url(#bw)" transform="translate(496.00,2658.90) scale(1,1.018)" text-anchor="end" font-family="'Liberation Serif', serif" font-size="98">-0.03</text>
<text filter="url(#bw)" transform="translate(496.00,2931.90) scale(1,1.018)" text-anchor="end" font-family="'Liberation Serif', serif" font-size="98">-0.04</text>
<text filter="url(#bw)" transform="translate(568.00,3030.90) scale(1,1.018)" text-anchor="middle" font-family="'Liberation Serif', serif" font-size="98">0</text>
<text filter="url(#bw)" transform="translate(896.00,3030.90) scale(1,1.018)" text-anchor="middle" font-family="'Liberation Serif', serif" font-size="98">2</text>
<text filter="url(#bw)" transform="translate(1224.00,3030.90) scale(1,1.018)" text-anchor="middle" font-family="'Liberation Serif', serif" font-size="98">4</text>
<text filter="url(#bw)" transform="translate(1552.00,3030.90) scale(1,1.018)" text-anchor="middle" font-family="'Liberation Serif', serif" font-size="98">6</text>
<text filter="url(#bw)" transform="translate(1880.00,3030.90) scale(1,1.018)" text-anchor="middle" font-family="'Liberation Serif', serif" font-size="98">8</text>
<text filter="url(#bw)" transform="translate(2208.00,3030.90) scale(1,1.018)" text-anchor="middle" font-family="'Liberation Serif', serif" font-size="98">10</text>
</g>
<text filter="url(#bw)" transform="translate(1364.06,3180.00) scale(0.9918,0.9674) skewX(-1.8)" font-family="'Liberation Sans', sans-serif" font-size="100" font-style="italic">r</text>
<g id="ylabel-b"><text filter="url(#bw)" transform="translate(131.70,2449.49) rotate(-90) scale(0.9648,1.0444) skewX(-1.8)" font-family="'Liberation Sans', sans-serif" font-size="100" font-style="italic">E</text><text filter="url(#bw)" transform="translate(160.92,2387.87) rotate(-90) scale(0.8195,0.7799) skewX(-1.8)" font-family="'Liberation Sans', sans-serif" font-size="100" font-style="italic">c</text><text filter="url(#bw)" transform="translate(132.21,2345.72) rotate(-90) scale(1.0032,0.9973) skewX(-1.8)" font-family="'Liberation Sans', sans-serif" font-size="100" font-style="italic">(r,t)</text></g>
<g id="tag-b"><text filter="url(#bw)" transform="translate(2009.39,1968.58) scale(0.9569,1.1492)" font-family="'Liberation Serif', serif" font-size="100">(</text><text filter="url(#bw)" transform="translate(2047.00,1967.16) scale(1.1005,1.0411)" font-family="'Liberation Serif', serif" font-size="100">b</text><text filter="url(#bw)" transform="translate(2104.61,1968.58) scale(0.9515,1.1492)" font-family="'Liberation Serif', serif" font-size="100">)</text></g>
</g>
</svg>
</body>
</html>
